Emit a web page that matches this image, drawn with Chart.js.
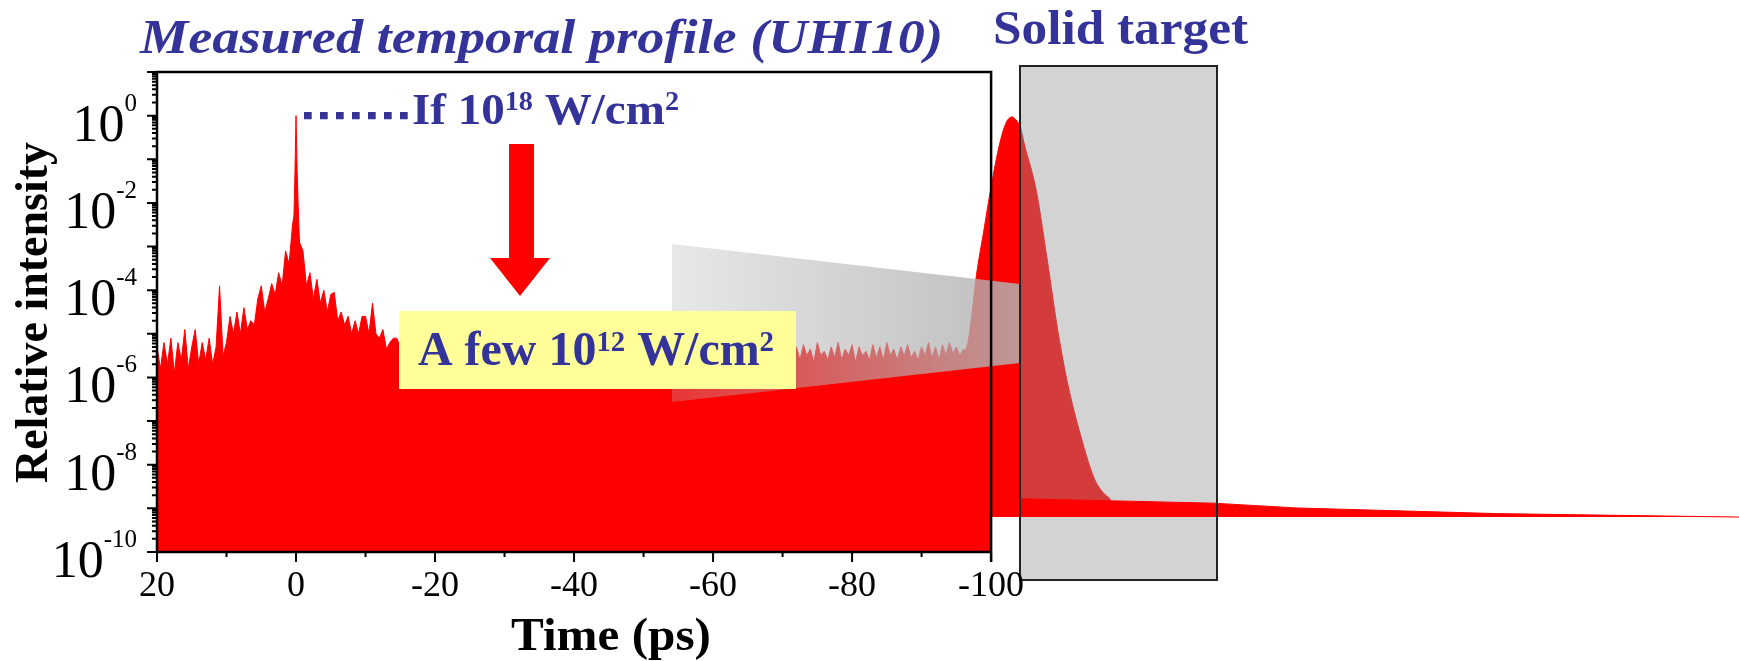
<!DOCTYPE html>
<html>
<head>
<meta charset="utf-8">
<script src="https://cdn.jsdelivr.net/npm/chart.js@4.4.1/dist/chart.umd.min.js"></script>
<style>
  html, body { margin: 0; padding: 0; background: #fff; }
  #wrap { width: 1739px; height: 661px; position: relative; }
</style>
</head>
<body>
<div id="wrap"><canvas id="myChart"></canvas></div>
<script>
var red = '#ff0000'
var blue = '#333399'
var serif = '"Liberation Serif", "Times New Roman", serif'

// measured trace, log10 of relative intensity, one value every 0.5 ps from +20 ps
var noiseStart = 20
var noiseStep = 0.5
var noiseLog = [
  // 20 .. 10.5
  -5.3,-5.8,-5.2,-5.7,-5.1,-5.9,-5.2,-5.6,-4.9,-5.8,-5.3,-4.9,-5.7,-5.2,-5.6,-5.1,-5.7,-5.3,-3.9,-5.5,
  // 10 .. 0.5
  -5.2,-4.6,-5.0,-4.5,-5.0,-4.4,-4.9,-4.7,-4.8,-4.2,-3.9,-4.5,-4.2,-3.85,-4.1,-3.6,-3.9,-3.1,-3.4,-2.5,
  // 0 .. -9.5
  -2.4,-2.9,-3.1,-3.9,-3.6,-4.2,-3.75,-4.3,-4.0,-4.5,-4.1,-4.05,-4.7,-4.5,-4.8,-4.6,-5.0,-4.7,-5.0,-4.6,
  // -10 .. -19.5
  -4.6,-5.0,-4.3,-5.0,-5.1,-4.9,-5.35,-5.2,-5.1,-5.1,-5.3,-5.0,-5.4,-5.1,-5.5,-5.2,-5.4,-5.0,-5.5,-5.2,
  // -20 .. -71.5 (mostly behind the yellow label)
  -5.4,-5.1,-5.6,-5.2,-5.5,-5.0,-5.6,-5.3,-5.5,-5.1,
  -5.6,-5.2,-5.4,-5.1,-5.7,-5.3,-5.5,-5.2,-5.6,-5.3,
  -5.4,-5.1,-5.6,-5.2,-5.5,-5.3,-5.7,-5.2,-5.4,-5.1,
  -5.6,-5.3,-5.5,-5.2,-5.6,-5.1,-5.5,-5.3,-5.6,-5.2,
  -5.4,-5.2,-5.6,-5.3,-5.5,-5.1,-5.6,-5.3,-5.4,-5.2,
  -5.6,-5.3,-5.5,-5.2,-5.7,-5.3,-5.5,-5.2,-5.6,-5.3,
  -5.4,-5.2,-5.6,-5.3,-5.5,-5.2,-5.6,-5.4,-5.5,-5.2,
  -5.6,-5.3,-5.5,-5.3,-5.6,-5.2,-5.5,-5.3,-5.6,-5.3,
  -5.5,-5.2,-5.6,-5.3,-5.5,-5.3,-5.6,-5.2,-5.5,-5.3,
  -5.6,-5.3,-5.5,-5.2,-5.6,-5.3,-5.5,-5.3,-5.6,-5.2,
  -5.5,-5.3,-5.6,-5.3,
  // -72 .. -100
  -5.3,-5.6,-5.25,-5.5,-5.35,-5.65,-5.2,-5.5,-5.4,-5.6,
  -5.3,-5.55,-5.2,-5.6,-5.35,-5.5,-5.25,-5.65,-5.3,-5.5,
  -5.4,-5.6,-5.25,-5.55,-5.3,-5.6,-5.2,-5.5,-5.35,-5.6,
  -5.3,-5.5,-5.25,-5.55,-5.4,-5.6,-5.3,-5.5,-5.2,-5.55,
  -5.3,-5.6,-5.25,-5.5,-5.2,-5.45,-5.3,-5.5,-5.35,-5.4,
  -5.3,-5.4,-5.3,-5.4,-5.3,-5.4,-5.35
]

// main peak at t = 0
var peakTime = [0.5, 0.3, 0.15, 0, -0.15, -0.3, -0.5]
var peakLog = [-2.5, -2.3, -1.3, 0, -1.2, -2.0, -2.9]

// sketched pulse hitting the target (same time axis)
var pulseTime = [-96.0, -96.7, -97.2, -97.9, -98.9, -99.9, -101.3, -102.2, -103.0, -103.6, -104.2]
var pulseLog = [-5.49, -5.17, -4.61, -3.65, -2.69, -1.72, -0.6, -0.15, -0.03, -0.1, -0.24]
var pulseInTime = [-104.2, -104.7, -106.5, -108.1, -109.6, -111.0, -112.9, -114.8, -116.0, -117.2]
var pulseInLog = [-0.24, -0.6, -1.72, -3.33, -4.93, -6.13, -7.34, -8.30, -8.62, -8.79]
var pedestalTime = [-104.2, -131.9, -143.9, -172.7, -207.6]
var pedestalLog = [-8.78, -8.88, -8.99, -9.12, -9.20]
var pedestalBase = Math.pow(10, -9.2)

var xMajor = [20, 0, -20, -40, -60, -80, -100]
var xMinor = [10, -10, -30, -50, -70, -90]
var yLabelExp = [0, -2, -4, -6, -8, -10]
var xMin = -207.6

function pts(times, logs) {
  return times.map((t, i) => ({x: t, y: Math.pow(10, logs[i])}))
}
var noisePts = noiseLog.map((v, i) => ({x: noiseStart - i * noiseStep, y: Math.pow(10, v)}))

// text helpers
function fitText(ctx, str, x, y, font, width) {
  ctx.font = font
  var w = ctx.measureText(str).width
  ctx.save()
  ctx.translate(x, y)
  ctx.scale(width / w, 1)
  ctx.fillText(str, 0, 0)
  ctx.restore()
}
function richText(ctx, parts, x, y, size, width) {
  var supSize = size * 0.6, total = 0
  parts.forEach(p => {
    ctx.font = 'bold ' + (p[1] ? supSize : size) + 'px ' + serif
    p.w = ctx.measureText(p[0]).width
    total += p.w
  })
  ctx.save()
  ctx.translate(x, y)
  ctx.scale(width / total, 1)
  var cx = 0
  parts.forEach(p => {
    ctx.font = 'bold ' + (p[1] ? supSize : size) + 'px ' + serif
    ctx.fillText(p[0], cx, p[1] ? -size * 0.3 : 0)
    cx += p.w
  })
  ctx.restore()
}

var decor = {
  id: 'decor',
  beforeDatasetsDraw(chart) {
    var ctx = chart.ctx
    ctx.save()
    ctx.fillStyle = '#d3d3d3'
    ctx.fillRect(1020, 66, 197, 514)
    ctx.restore()
  },
  afterDatasetsDraw(chart) {
    var ctx = chart.ctx
    var xS = chart.scales.x, yS = chart.scales.y
    ctx.save()

    // zoom trapezoid
    var g = ctx.createLinearGradient(672, 0, 1020, 0)
    g.addColorStop(0, 'rgba(178,178,178,0.3)')
    g.addColorStop(1, 'rgba(178,178,178,0.85)')
    ctx.fillStyle = g
    ctx.beginPath()
    ctx.moveTo(672, 244); ctx.lineTo(1020, 284); ctx.lineTo(1020, 363); ctx.lineTo(672, 402)
    ctx.closePath(); ctx.fill()

    // target outline
    ctx.strokeStyle = '#222'; ctx.lineWidth = 2
    ctx.strokeRect(1020, 66, 197, 514)

    // frame and axes
    var L = xS.getPixelForValue(20), R = xS.getPixelForValue(-100)
    var T = yS.getPixelForValue(10), B = yS.getPixelForValue(1e-10)
    ctx.strokeStyle = '#000'; ctx.lineWidth = 2.5
    ctx.beginPath()
    ctx.moveTo(L, B); ctx.lineTo(L, T); ctx.lineTo(R, T); ctx.lineTo(R, B + 10)
    ctx.moveTo(L, B); ctx.lineTo(R, B)
    ctx.stroke()

    ctx.lineWidth = 2
    ctx.beginPath()
    xMajor.forEach(v => { var px = xS.getPixelForValue(v); ctx.moveTo(px, B); ctx.lineTo(px, B + 10) })
    xMinor.forEach(v => { var px = xS.getPixelForValue(v); ctx.moveTo(px, B); ctx.lineTo(px, B + 5) })
    for (var e = -10; e <= 1; e++) {
      var py = yS.getPixelForValue(Math.pow(10, e))
      ctx.moveTo(L - 10, py); ctx.lineTo(L, py)
      if (e < 1) {
        for (var m = 2; m <= 9; m++) {
          var pm = yS.getPixelForValue(m * Math.pow(10, e))
          ctx.moveTo(L - 5, pm); ctx.lineTo(L, pm)
        }
      }
    }
    ctx.stroke()

    // tick labels
    ctx.fillStyle = '#000'
    ctx.textBaseline = 'alphabetic'
    ctx.textAlign = 'center'
    ctx.font = '36px ' + serif
    xMajor.forEach(v => ctx.fillText(String(v), xS.getPixelForValue(v), 596))
    ctx.textAlign = 'right'
    yLabelExp.forEach(e => {
      var py = yS.getPixelForValue(Math.pow(10, e))
      ctx.font = '25px ' + serif
      var ew = ctx.measureText(String(e)).width
      ctx.fillText(String(e), 137, py - 5)
      ctx.font = '52px ' + serif
      ctx.fillText('10', 137 - ew, py + 25)
    })

    // axis titles
    ctx.textAlign = 'left'
    fitText(ctx, 'Time (ps)', 511, 650, 'bold 46px ' + serif, 200)
    ctx.save()
    ctx.translate(47, 312.5)
    ctx.rotate(-Math.PI / 2)
    ctx.textAlign = 'center'
    ctx.font = 'bold 46px ' + serif
    ctx.fillText('Relative intensity', 0, 0)
    ctx.restore()

    // yellow label
    ctx.fillStyle = '#ffff99'
    ctx.fillRect(399, 311, 397, 78)

    // arrow
    ctx.fillStyle = red
    ctx.beginPath()
    ctx.moveTo(509, 144); ctx.lineTo(534, 144); ctx.lineTo(534, 258); ctx.lineTo(550, 258)
    ctx.lineTo(520, 296); ctx.lineTo(490, 258); ctx.lineTo(509, 258)
    ctx.closePath(); ctx.fill()

    // dotted level line
    var p0 = yS.getPixelForValue(1)
    ctx.strokeStyle = blue; ctx.lineWidth = 7.3
    ctx.setLineDash([7.7, 8.3])
    ctx.beginPath(); ctx.moveTo(304, p0); ctx.lineTo(408, p0); ctx.stroke()
    ctx.setLineDash([])

    // blue texts
    ctx.fillStyle = blue
    ctx.textAlign = 'left'
    richText(ctx, [['If 10', 0], ['18', 1], [' W/cm', 0], ['2', 1]], 412, 123.5, 45, 267)
    richText(ctx, [['A few 10', 0], ['12', 1], [' W/cm', 0], ['2', 1]], 418, 365, 48, 356)
    fitText(ctx, 'Measured temporal profile (UHI10)', 140, 53, 'italic bold 48px ' + serif, 803)
    fitText(ctx, 'Solid target', 993, 44, 'bold 48px ' + serif, 255)

    ctx.restore()
  }
}

var ctx = document.getElementById('myChart')
var myChart = new Chart(ctx, {
  type: 'line',
  data: {
    datasets: [{
      label: 'Measured temporal profile',
      data: noisePts,
      order: 5,
      borderColor: red,
      backgroundColor: red,
      borderWidth: 1,
      fill: 'start',
      pointRadius: 0,
      tension: 0
    }, {
      label: 'Main peak',
      data: pts(peakTime, peakLog),
      order: 4,
      borderColor: red,
      backgroundColor: red,
      borderWidth: 1,
      fill: 'start',
      pointRadius: 0,
      tension: 0
    }, {
      label: 'Pulse',
      data: pts(pulseTime, pulseLog),
      order: 3,
      borderColor: red,
      backgroundColor: red,
      borderWidth: 1,
      fill: {value: pedestalBase},
      pointRadius: 0,
      cubicInterpolationMode: 'monotone'
    }, {
      label: 'Pulse in target',
      data: pts(pulseInTime, pulseInLog),
      order: 2,
      borderColor: 'rgb(212,60,60)',
      backgroundColor: 'rgb(212,60,60)',
      borderWidth: 1,
      fill: {value: pedestalBase},
      pointRadius: 0,
      cubicInterpolationMode: 'monotone'
    }, {
      label: 'Pedestal',
      data: pts(pedestalTime, pedestalLog),
      order: 1,
      borderColor: red,
      backgroundColor: red,
      borderWidth: 1,
      fill: {value: pedestalBase},
      pointRadius: 0,
      tension: 0
    }]
  },
  options: {
    animation: false,
    responsive: true,
    maintainAspectRatio: false,
    events: [],
    layout: { padding: { left: 157, top: 72, right: 0, bottom: 109 } },
    scales: {
      x: { type: 'linear', reverse: true, min: xMin, max: 20, display: false },
      y: { type: 'logarithmic', min: 1e-10, max: 10, display: false }
    },
    plugins: {
      legend: { display: false },
      tooltip: { enabled: false }
    }
  },
  plugins: [decor]
});
</script>
</body>
</html>
